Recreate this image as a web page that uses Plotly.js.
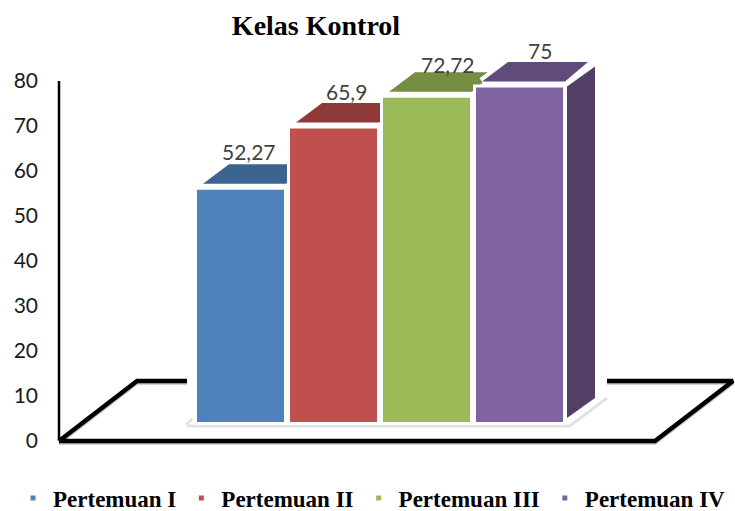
<!DOCTYPE html>
<html>
<head>
<meta charset="utf-8">
<script src="https://cdn.plot.ly/plotly-3.0.1.min.js"></script>
<style>html,body{margin:0;padding:0;background:#fff}</style>
</head>
<body>
<div id="chart" style="width:735px;height:511px"></div>
<script>
// Data
var categories = ['Pertemuan I', 'Pertemuan II', 'Pertemuan III', 'Pertemuan IV'];
var values = [52.27, 65.9, 72.72, 75];
var valueLabels = ['52,27', '65,9', '72,72', '75'];
var frontColors = ['#4f81bd', '#c0504d', '#9bbb59', '#8064a2'];
var topColors = ['#3c6491', '#8f3a38', '#748e42', '#614b7a'];
var sideColor = '#533e66';
var tickValues = [0, 10, 20, 30, 40, 50, 60, 70, 80];

// Layout frame (pixels of the plot frame)
var W = 735, H = 511, mL = 3, mR = 0, mT = 45, mB = 60;
var zeroPx = 441, axisPx = 59;             // pixel of value 0 and of the vertical axis
var xUnit = 93, yUnit = 4.5;               // pixels per category / per value
var firstCenter = 240.5;                   // pixel of first bar centre
var xMin = -(firstCenter - mL) / xUnit;
var xMax = xMin + (W - mL - mR) / xUnit;
var yMin = -(H - mB - zeroPx) / yUnit;
var yMax = (zeroPx - mT) / yUnit;
var yLift = 17.5 / yUnit;                  // bars stand on the middle of the floor

function dx(px) { return px / xUnit; }
function dy(px) { return -px / yUnit; }
function fx(px) { return xMin + (px - mL) / xUnit; }
function fy(py) { return (zeroPx - py) / yUnit; }

var halfW = 43.5 / xUnit;

function poly(name, xs, ys, fill, lineColor, lineWidth) {
  return {
    type: 'scatter', mode: 'lines', x: xs, y: ys, xaxis: 'x', yaxis: 'y',
    fill: fill ? 'toself' : 'none', fillcolor: fill || 'rgba(0,0,0,0)',
    line: { color: lineColor || 'rgba(0,0,0,0)', width: lineWidth || 0, shape: 'linear' },
    hoverinfo: 'skip', showlegend: false, cliponaxis: false, name: name
  };
}

var traces = [];

// Vertical axis line stops at the last tick
traces.push(poly('axis', [fx(axisPx), fx(axisPx)], [0, 80], null, '#000000', 2.5));

// Floor outline
var floorPx = [[59, 441], [137, 381], [733, 381], [655, 441], [59, 441]];
traces.push(poly('floor shadow', floorPx.map(function (p) { return fx(p[0]); }),
  floorPx.map(function (p) { return fy(p[1] + 1.5); }), null, '#c4c4c4', 4.5));
traces.push(poly('floor', floorPx.map(function (p) { return fx(p[0]); }),
  floorPx.map(function (p) { return fy(p[1]); }), null, '#000000', 4.5));

// White halo under the block of bars, and its soft shadow
var padPx = [[187, 425], [570, 425], [607, 398], [607, 370], [187, 370], [187, 425]];
traces.push(poly('pad', padPx.map(function (p) { return fx(p[0]); }),
  padPx.map(function (p) { return fy(p[1]); }), '#ffffff'));
var shadowPx = [[186, 425], [192, 419]];
traces.push(poly('shadow left', shadowPx.map(function (p) { return fx(p[0]); }),
  shadowPx.map(function (p) { return fy(p[1]); }), null, '#e2e2e2', 3));
var shadowPx2 = [[187, 426], [570, 426], [607, 398]];
traces.push(poly('shadow', shadowPx2.map(function (p) { return fx(p[0]); }),
  shadowPx2.map(function (p) { return fy(p[1]); }), null, '#e2e2e2', 3));

// Top faces, computed from each value
values.forEach(function (v, i) {
  var L = i - halfW, R = i + halfW, T = yLift + v;
  var xs = [L + dx(6), R + dx(2), R + dx(25), L + dx(32), L + dx(6)];
  var ys = [T + dy(-4.5), T + dy(-4.5), T + dy(-24), T + dy(-24), T + dy(-4.5)];
  traces.push(poly('halo ' + i, xs, ys, '#ffffff', '#ffffff', 8));
  traces.push(poly('top ' + i, xs, ys, topColors[i]));
});

// Right side of the last bar
(function () {
  var i = values.length - 1, R = i + halfW, T = yLift + values[i], B = yLift;
  traces.push(poly('side',
    [R + dx(4), R + dx(32), R + dx(32), R + dx(4), R + dx(4)],
    [T + dy(0.5), T + dy(-19.5), B + dy(-25.5), B + dy(-5.5), T + dy(0.5)],
    sideColor));
})();

// Front faces
categories.forEach(function (c, i) {
  traces.push({
    type: 'bar', x: [i], y: [values[i]], base: [yLift], width: [90 / xUnit],
    xaxis: 'x', yaxis: 'y2', name: c, showlegend: false,
    marker: { color: frontColors[i], line: { color: '#ffffff', width: 3 } },
    cliponaxis: false, hoverinfo: 'name+y'
  });
});

// Legend entries with the small square swatches
categories.forEach(function (c, i) {
  traces.push({
    type: 'scatter', mode: 'markers', x: [null], y: [null], xaxis: 'x', yaxis: 'y',
    name: c, showlegend: true, hoverinfo: 'skip',
    marker: { color: frontColors[i], symbol: 'square', size: 5 }
  });
});

var labelShiftX = [8, 13, 21, 20];
var labelShiftY = [37, 35, 32, 36];
var annotations = values.map(function (v, i) {
  return {
    x: i, y: yLift + v, xref: 'x', yref: 'y2', text: valueLabels[i], showarrow: false,
    xanchor: 'center', yanchor: 'middle',
    xshift: labelShiftX[i],
    yshift: labelShiftY[i],
    font: { family: 'Lato, sans-serif', size: 21, color: '#404040' }
  };
});

var layout = {
  width: W, height: H,
  margin: { l: mL, r: mR, t: mT, b: mB, autoexpand: false },
  paper_bgcolor: '#ffffff', plot_bgcolor: 'rgba(0,0,0,0)',
  title: {
    text: '<b>Kelas Kontrol</b>', x: 316 / W, xanchor: 'center', xref: 'container',
    y: 1 - 25 / H, yanchor: 'middle',
    font: { family: '"Liberation Serif", serif', size: 28, color: '#000000' }
  },
  xaxis: { range: [xMin, xMax], visible: false, fixedrange: true },
  yaxis: {
    range: [yMin, yMax], tickmode: 'array', tickvals: tickValues,
    ticktext: tickValues.map(String), ticks: '', showgrid: false, zeroline: false,
    showline: false, anchor: 'free', position: (axisPx - mL) / (W - mL - mR), side: 'left',
    ticklabelstandoff: 21,
    tickfont: { family: 'Lato, sans-serif', size: 21, color: '#1a1a1a' }, fixedrange: true
  },
  yaxis2: { range: [yMin, yMax], overlaying: 'y', visible: false, fixedrange: true },
  showlegend: true,
  legend: {
    orientation: 'h', x: 13 / W, xref: 'container', xanchor: 'left',
    y: 1 - 498 / H, yref: 'container', yanchor: 'middle',
    itemwidth: 30, traceorder: 'normal',
    font: { family: '"Liberation Serif", serif', size: 23, color: '#000000', weight: 'bold' },
    bgcolor: 'rgba(0,0,0,0)'
  },
  annotations: annotations,
  barmode: 'overlay'
};

Plotly.newPlot('chart', traces, layout, { displayModeBar: false, staticPlot: true });
</script>
</body>
</html>
